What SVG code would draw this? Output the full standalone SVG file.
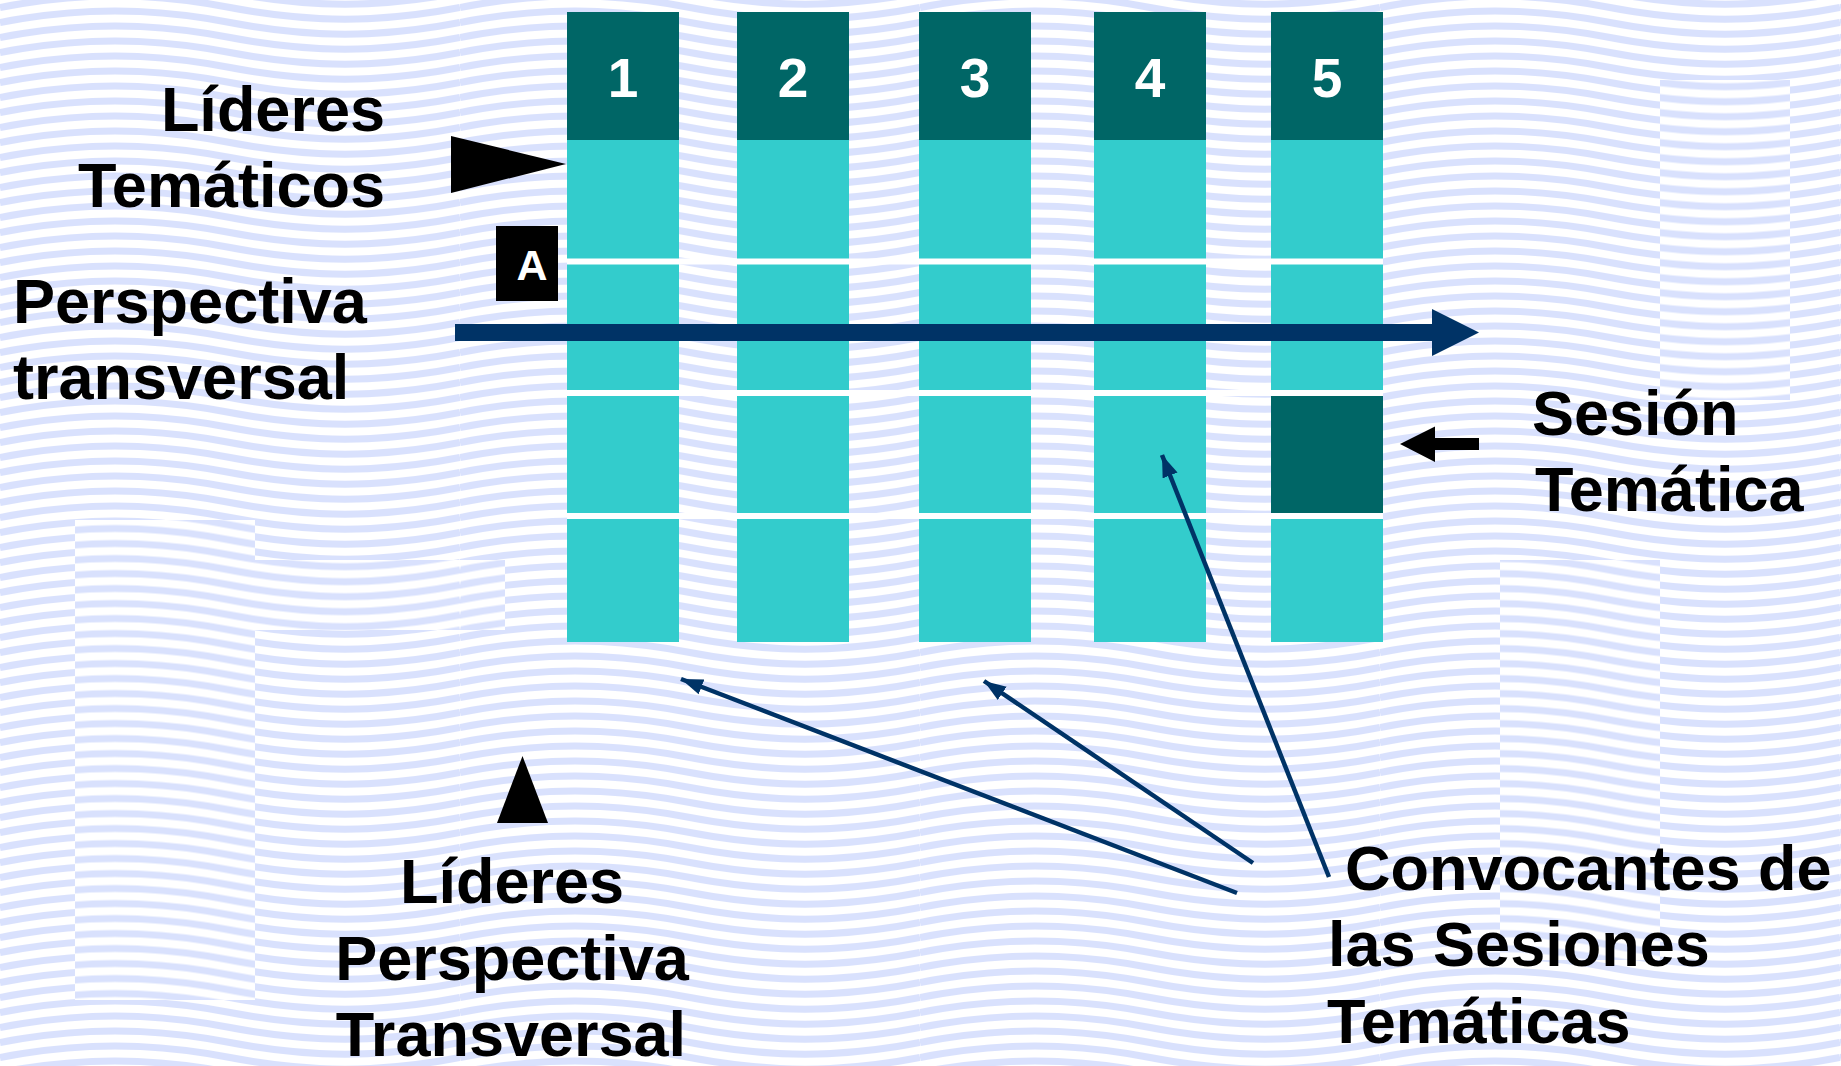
<svg xmlns="http://www.w3.org/2000/svg" width="1841" height="1066" viewBox="0 0 1841 1066">
  <defs>
    <g id="waveset" fill="none" stroke="#D9E1FD" stroke-width="7">
      <path d="M0 7.5 C80 -8 150 -8 230 7.5 C310 23 380 23 460 7.5"/>
      <path d="M0 -7.5 C80 -23 150 -23 230 -7.5 C310 8 380 8 460 -7.5"/>
      <path d="M0 22.5 C80 7 150 7 230 22.5 C310 38 380 38 460 22.5"/>
      <path d="M0 -22.5 C80 -38 150 -38 230 -22.5 C310 -7 380 -7 460 -22.5"/>
      <path d="M0 37.5 C80 22 150 22 230 37.5 C310 53 380 53 460 37.5"/>
    </g>
    <pattern id="waves" patternUnits="userSpaceOnUse" width="460" height="15">
      <rect width="460" height="15" fill="#ffffff"/>
      <use href="#waveset"/>
    </pattern>
    <pattern id="waves2" patternUnits="userSpaceOnUse" width="460" height="15" patternTransform="translate(0 7.5)">
      <rect width="460" height="15" fill="#ffffff"/>
      <use href="#waveset"/>
    </pattern>
    <marker id="navyHead" markerUnits="userSpaceOnUse" markerWidth="24" markerHeight="18" refX="22" refY="9" orient="auto">
      <path d="M0 1 L22 9 L0 17 Z" fill="#003366"/>
    </marker>
    <style>
      .lbl { font-family: "Liberation Sans", Arial, sans-serif; font-weight: bold; font-size: 63px; fill: #000000; }
      .num { font-family: "Liberation Sans", Arial, sans-serif; font-weight: bold; font-size: 55px; fill: #ffffff; text-anchor: middle; }
      .head { fill: #006666; }
      .body { fill: #33CCCC; }
      .sel { fill: #006666; }
      .sep { stroke: #ffffff; stroke-width: 6; }
      .conn { stroke: #003366; stroke-width: 4.5; fill: none; marker-end: url(#navyHead); }
    </style>
  </defs>

  <!-- background -->
  <rect width="1841" height="1066" fill="url(#waves)"/>
  <g fill="url(#waves2)">
    <rect x="75" y="520" width="180" height="480"/>
    <rect x="255" y="560" width="250" height="70"/>
    <rect x="1660" y="80" width="130" height="320"/>
    <rect x="1500" y="560" width="160" height="400"/>
  </g>

  <!-- columns -->
  <g id="col1">
    <rect class="head" x="567" y="12" width="112" height="128"/>
    <rect class="body" x="567" y="140" width="112" height="502"/>
    <text class="num" x="623" y="97">1</text>
  </g>
  <g id="col2">
    <rect class="head" x="737" y="12" width="112" height="128"/>
    <rect class="body" x="737" y="140" width="112" height="502"/>
    <text class="num" x="793" y="97">2</text>
  </g>
  <g id="col3">
    <rect class="head" x="919" y="12" width="112" height="128"/>
    <rect class="body" x="919" y="140" width="112" height="502"/>
    <text class="num" x="975" y="97">3</text>
  </g>
  <g id="col4">
    <rect class="head" x="1094" y="12" width="112" height="128"/>
    <rect class="body" x="1094" y="140" width="112" height="502"/>
    <text class="num" x="1150" y="97">4</text>
  </g>
  <g id="col5">
    <rect class="head" x="1271" y="12" width="112" height="128"/>
    <rect class="body" x="1271" y="140" width="112" height="502"/>
    <rect class="sel" x="1271" y="396" width="112" height="117"/>
    <text class="num" x="1327" y="97">5</text>
  </g>
  <g id="separators">
    <line class="sep" x1="567" y1="261.5" x2="1383" y2="261.5"/>
    <line class="sep" x1="567" y1="393" x2="1383" y2="393"/>
    <line class="sep" x1="567" y1="516" x2="1383" y2="516"/>
  </g>

  <!-- transversal arrow -->
  <g id="transversal-arrow">
    <rect x="455" y="324" width="977" height="17" fill="#003366"/>
    <polygon points="1432,309 1479,332.5 1432,356" fill="#003366"/>
  </g>

  <!-- Líderes Temáticos -->
  <g id="lideres-tematicos">
    <text class="lbl" x="385" y="131" text-anchor="end">Líderes</text>
    <text class="lbl" x="385" y="207" text-anchor="end">Temáticos</text>
    <polygon points="451,136 566,164 451,193" fill="#000000"/>
  </g>

  <!-- A box -->
  <g id="box-a">
    <rect x="496" y="226" width="62" height="75" fill="#000000"/>
    <text x="532" y="280" text-anchor="middle" style="font-family:'Liberation Sans', Arial, sans-serif;font-weight:bold;font-size:43px;fill:#ffffff">A</text>
  </g>

  <!-- Perspectiva transversal -->
  <g id="perspectiva-transversal">
    <text class="lbl" x="13" y="323">Perspectiva</text>
    <text class="lbl" x="13" y="399">transversal</text>
  </g>

  <!-- Sesión Temática -->
  <g id="sesion-tematica">
    <text class="lbl" x="1532" y="435">Sesión</text>
    <text class="lbl" x="1535" y="511">Temática</text>
    <polygon points="1400,444 1435,426.5 1435,438 1479,438 1479,450 1435,450 1435,462" fill="#000000"/>
  </g>

  <!-- Líderes Perspectiva Transversal -->
  <g id="lideres-perspectiva">
    <polygon points="522.5,756 548,823 497,823" fill="#000000"/>
    <text class="lbl" x="512" y="903" text-anchor="middle">Líderes</text>
    <text class="lbl" x="512" y="980" text-anchor="middle">Perspectiva</text>
    <text class="lbl" x="511" y="1056" text-anchor="middle">Transversal</text>
  </g>

  <!-- Convocantes -->
  <g id="convocantes">
    <text class="lbl" x="1345" y="890">Convocantes de</text>
    <text class="lbl" x="1328" y="966">las Sesiones</text>
    <text class="lbl" x="1327" y="1043">Temáticas</text>
  </g>

  <!-- connectors -->
  <g id="connectors">
    <line class="conn" x1="1237" y1="893" x2="681" y2="679"/>
    <line class="conn" x1="1253" y1="863" x2="984" y2="681"/>
    <line class="conn" x1="1329" y1="877" x2="1162" y2="455"/>
  </g>
</svg>
